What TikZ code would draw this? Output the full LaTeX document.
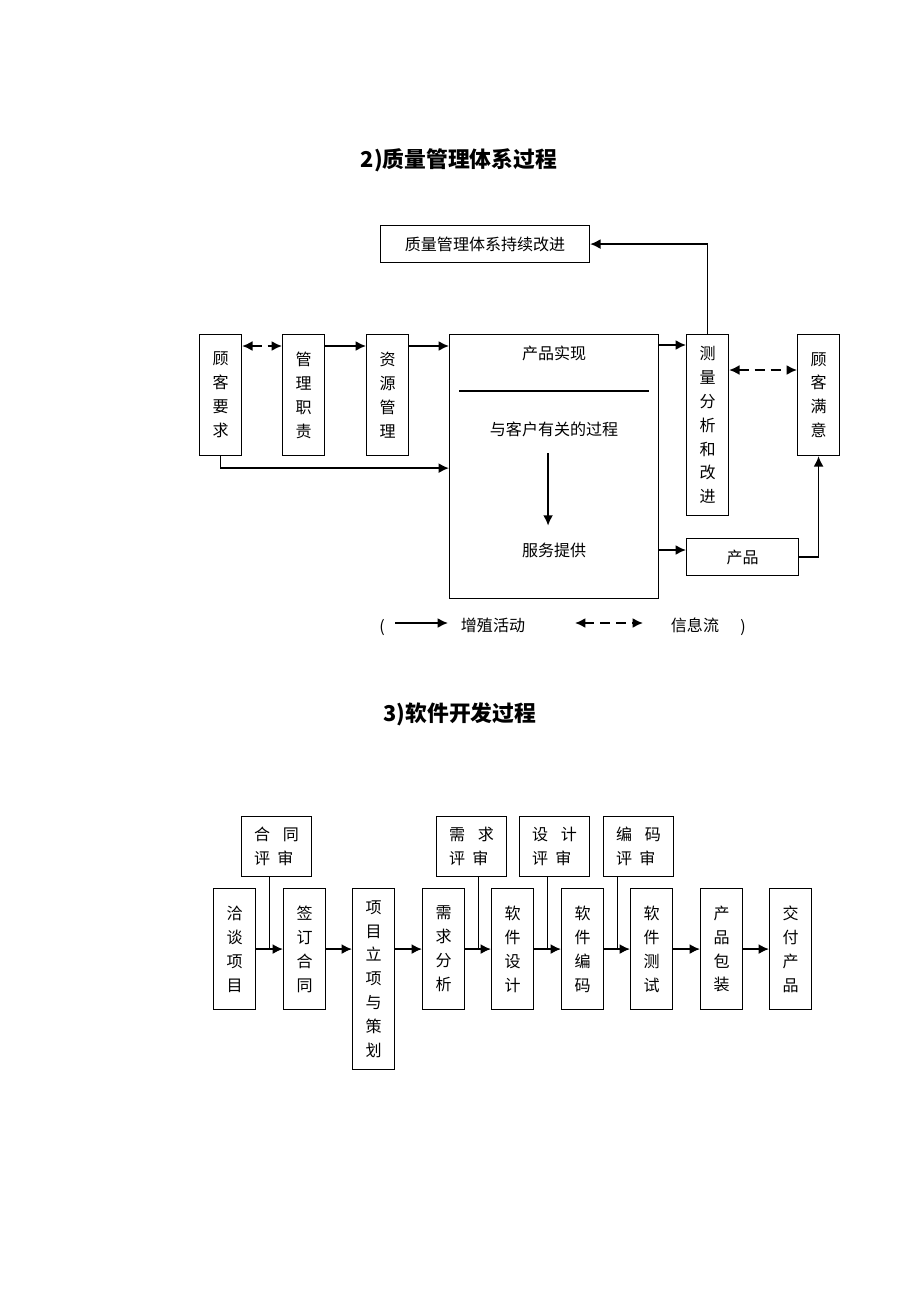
\documentclass[tikz,border=0pt]{standalone}
\usepackage{fontspec}
\setmainfont{Noto Sans CJK SC}
\usetikzlibrary{arrows.meta}
\usetikzlibrary{calc}

\begin{document}
\begin{tikzpicture}[x=0.25mm, y=-0.25mm,
    every node/.style={font=\fontsize{11.4}{17}\selectfont},
    box/.style={draw, line width=0.8pt, inner sep=0pt, align=center},
    vbox/.style={box, anchor=north west, minimum width=10.5mm, minimum height=30.25mm},
    rbox/.style={box, anchor=north west, minimum width=17.5mm, minimum height=15mm, align=left},
    flow/.style={line width=1.3pt, -{Latex[length=2.6mm, width=2.5mm]}},
    info/.style={line width=1.3pt, dash pattern=on 2.5mm off 1.5mm, {Latex[length=2.6mm, width=2.5mm]}-{Latex[length=2.6mm, width=2.5mm]}},
    title/.style={font=\fontsize{15.5}{18}\selectfont\bfseries}]
    \useasboundingbox (0,0) rectangle (920,1302);

    \node[title] (tqm) at (459,160) {2)质量管理体系过程};
    \node[box, anchor=north west, minimum width=52.25mm, minimum height=9.25mm] (zlgl) at (380,225) {质量管理体系持续改进};
    \node[vbox] (gkyq) at (199,334) {顾\\客\\要\\求};
    \node[vbox] (glzz) at (282,334) {管\\理\\职\\责};
    \node[vbox] (zygl) at (366,334) {资\\源\\管\\理};
    \node[box, anchor=north west, minimum width=52.25mm, minimum height=66mm] (cpsx) at (449,334) {};
    \node[vbox, minimum height=45.25mm] (clfx) at (686,334) {测\\量\\分\\析\\和\\改\\进};
    \node[vbox] (gkmy) at (797,334) {顾\\客\\满\\意};
    \node[box, anchor=north west, minimum width=28mm, minimum height=9.25mm] (cp) at (686,538) {产品};
    \node (tcpsx) at ($(cpsx.north)+(0,-4.75mm)$) {产品实现};
    \node (tykh) at ($(cpsx.north)+(0,-23.75mm)$) {与客户有关的过程};
    \node (tfwtg) at ($(cpsx.north)+(0,-54mm)$) {服务提供};
    \draw[line width=1.6pt] ($(cpsx.north west)+(2.5mm,-14.25mm)$) -- ($(cpsx.north east)+(-2.5mm,-14.25mm)$);

    \draw[info] ([yshift=-3mm]gkyq.north east) -- ([yshift=-3mm]glzz.north west);
    \draw[flow] ([yshift=-3mm]glzz.north east) -- ([yshift=-3mm]zygl.north west);
    \draw[flow] ([yshift=-3mm]zygl.north east) -- ([yshift=-3mm]cpsx.north west);
    \draw[flow] (gkyq.south) |- ($(gkyq.south -| cpsx.west)+(0,-3mm)$);
    \draw[flow] ([yshift=-2.75mm]cpsx.north east) -- ([yshift=-2.75mm]clfx.north west);
    \draw[info] ([yshift=-9mm]clfx.north east) -- ([yshift=-9mm]gkmy.north west);
    \draw[flow] (cpsx.east |- tfwtg) -- (cp.west |- tfwtg);
    \draw[flow] (cp.east) -| (gkmy.south);
    \draw[flow] (clfx.north) |- (zlgl.east);
    \draw[flow, shorten <=3mm, shorten >=3mm] ([xshift=-1.5mm]tykh.south) -- ([xshift=-1.5mm]tfwtg.north);

    \node (lpar) at (382,628) {(};
    \coordinate (la1) at (395,623);
    \coordinate (la2) at (448,623);
    \draw[flow] (la1) -- (la2);
    \node (lzz) at (493,625) {增殖活动};
    \coordinate (lb1) at (575,623);
    \coordinate (lb2) at (643,623);
    \draw[info] (lb1) -- (lb2);
    \node (lxx) at (695,625) {信息流};
    \node (rpar) at (743,628) {)};

    \node[title] (trj) at (460,714) {3)软件开发过程};
    \node[rbox] (htps) at (241,816) {合\hspace{0.8em}同\\评\hspace{0.45em}审};
    \node[rbox] (xqps) at (436,816) {需\hspace{0.8em}求\\评\hspace{0.45em}审};
    \node[rbox] (sjps) at (519,816) {设\hspace{0.8em}计\\评\hspace{0.45em}审};
    \node[rbox] (bmps) at (603,816) {编\hspace{0.8em}码\\评\hspace{0.45em}审};
    \node[vbox] (qtxm) at (213,888) {洽\\谈\\项\\目};
    \node[vbox] (qdht) at (283,888) {签\\订\\合\\同};
    \node[vbox, minimum height=45.25mm] (xmlx) at (352,888) {项\\目\\立\\项\\与\\策\\划};
    \node[vbox] (xqfx) at (422,888) {需\\求\\分\\析};
    \node[vbox] (rjsj) at (491,888) {软\\件\\设\\计};
    \node[vbox] (rjbm) at (561,888) {软\\件\\编\\码};
    \node[vbox] (rjcs) at (630,888) {软\\件\\测\\试};
    \node[vbox] (cpbz) at (700,888) {产\\品\\包\\装};
    \node[vbox] (jfcp) at (769,888) {交\\付\\产\\品};

    \foreach \a/\b in {qtxm/qdht, qdht/xmlx, xmlx/xqfx, xqfx/rjsj, rjsj/rjbm, rjbm/rjcs, rjcs/cpbz, cpbz/jfcp}
      \draw[flow] (\a.east |- qtxm.east) -- (\b.west |- qtxm.east);
    \foreach \r/\a/\b in {htps/qtxm/qdht, xqps/xqfx/rjsj, sjps/rjsj/rjbm, bmps/rjbm/rjcs} {
      \coordinate (m) at ($(\a.east)!0.5!(\b.west)$);
      \draw[line width=0.8pt] (m |- \r.south) -- (m);
    }
  \end{tikzpicture}
\end{document}
